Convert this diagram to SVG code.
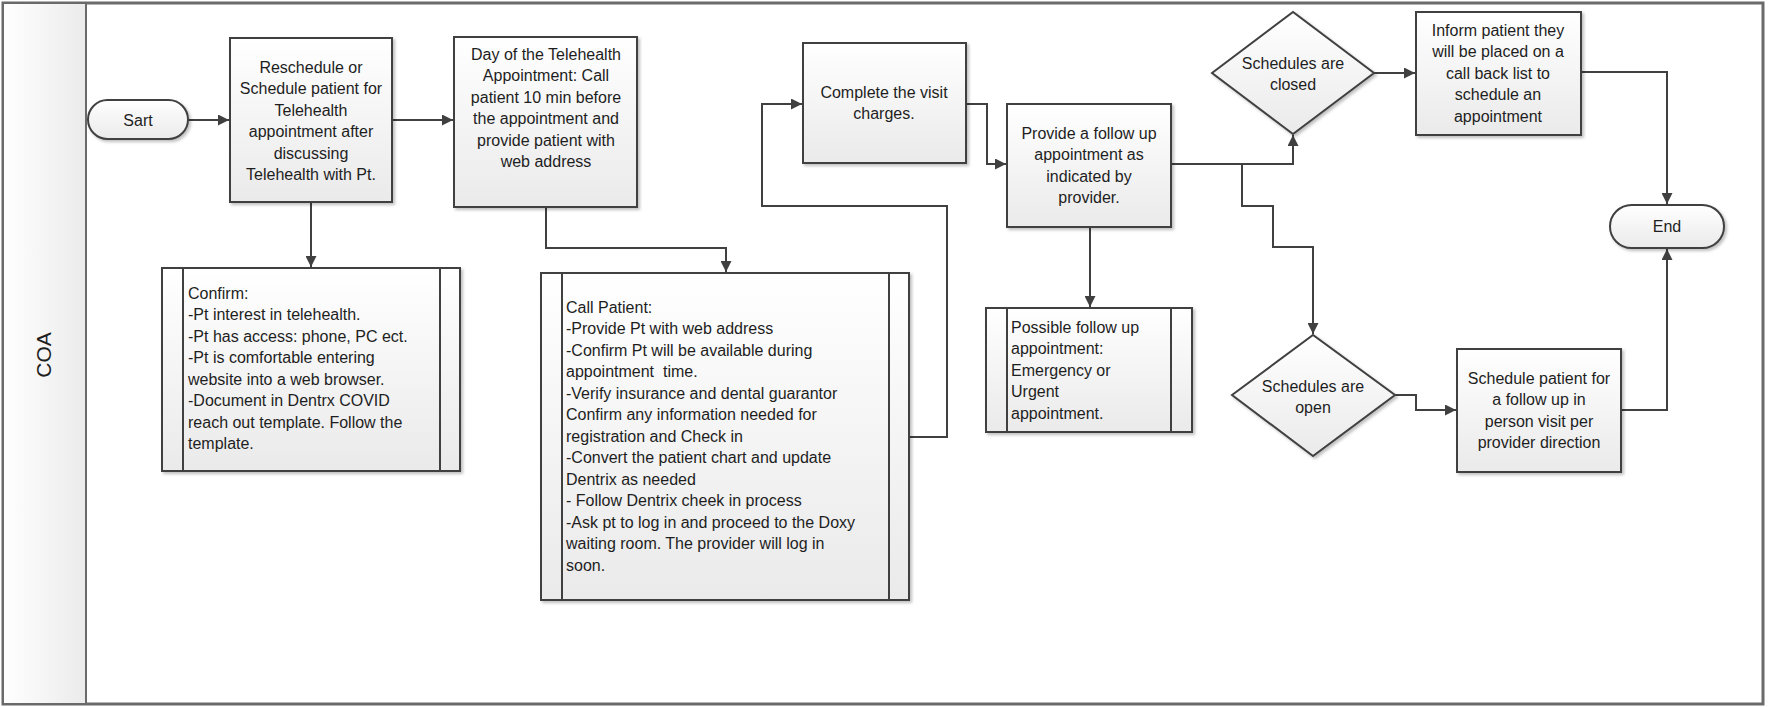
<svg xmlns="http://www.w3.org/2000/svg" width="1768" height="707" viewBox="0 0 1768 707">
<defs>
<linearGradient id="gBox" x1="0" y1="0" x2="0" y2="1">
<stop offset="0" stop-color="#ffffff"/>
<stop offset="1" stop-color="#eaeaea"/>
</linearGradient>
<linearGradient id="gLane" x1="0" y1="0" x2="1" y2="0">
<stop offset="0" stop-color="#ffffff"/>
<stop offset="1" stop-color="#ebebeb"/>
</linearGradient>
<filter id="sh" x="-10%" y="-10%" width="130%" height="130%">
<feDropShadow dx="2" dy="2" stdDeviation="1.5" flood-color="#000" flood-opacity="0.25"/>
</filter>
<marker id="arr" viewBox="0 0 10 10" refX="10" refY="5" markerWidth="5.5" markerHeight="5.5" orient="auto" markerUnits="strokeWidth">
<path d="M0,0 L10,5 L0,10 z" fill="#404040"/>
</marker>
</defs>
<style>
.box{fill:url(#gBox);stroke:#404040;stroke-width:2;filter:url(#sh)}
.inner{stroke:#404040;stroke-width:2;fill:none}
.conn{fill:none;stroke:#404040;stroke-width:2;marker-end:url(#arr)}
.line{fill:none;stroke:#404040;stroke-width:2}
text{font-family:"Liberation Sans",Arial,sans-serif;font-size:16px;fill:#1e1e1e}
.c{text-anchor:middle}
</style>
<g id="lane">
<rect x="3" y="3" width="1760" height="701" fill="#ffffff" stroke="#6a6a6a" stroke-width="3"/>
<rect x="3" y="3" width="83" height="701" fill="url(#gLane)" stroke="#6a6a6a" stroke-width="2"/>
<text transform="translate(51,355) rotate(-90)" class="c" style="font-size:21px">COA</text>
</g>
<g id="connectors">
<path class="conn" d="M188,120 H229"/>
<path class="conn" d="M392,120 H453"/>
<path class="conn" d="M311,202 V267"/>
<path class="conn" d="M546,207 V248 H726 V272"/>
<path class="conn" d="M909,437 H947 V206 H762 V104 H802"/>
<path class="conn" d="M966,104 H987 V164 H1006"/>
<path class="conn" d="M1171,164 H1293 V135"/>
<path class="conn" d="M1242,164 V206 H1273 V247 H1313 V334"/>
<path class="conn" d="M1090,227 V307"/>
<path class="conn" d="M1374,73 H1415"/>
<path class="conn" d="M1395,395 H1416 V410 H1456"/>
<path class="conn" d="M1581,72 H1667 V204"/>
<path class="conn" d="M1621,410 H1667 V249"/>
</g>
<g id="start">
<rect class="box" x="88" y="100" width="100" height="39" rx="19.5"/>
<text class="c" x="138" y="125.5">Sart</text>
</g>
<g id="reschedule">
<rect class="box" x="230" y="38" width="162" height="164"/>
<text class="c" x="311" y="72.5">Reschedule or</text>
<text class="c" x="311" y="94">Schedule patient for</text>
<text class="c" x="311" y="115.5">Telehealth</text>
<text class="c" x="311" y="137">appointment after</text>
<text class="c" x="311" y="158.5">discussing</text>
<text class="c" x="311" y="180">Telehealth with Pt.</text>
</g>
<g id="dayof">
<rect class="box" x="454" y="37" width="183" height="170"/>
<text class="c" x="546" y="59.5">Day of the Telehealth</text>
<text class="c" x="546" y="81">Appointment: Call</text>
<text class="c" x="546" y="102.5">patient 10 min before</text>
<text class="c" x="546" y="124">the appointment and</text>
<text class="c" x="546" y="145.5">provide patient with</text>
<text class="c" x="546" y="167">web address</text>
</g>
<g id="confirm">
<rect class="box" x="162" y="268" width="298" height="203"/>
<line class="inner" x1="183" y1="268" x2="183" y2="471"/>
<line class="inner" x1="440" y1="268" x2="440" y2="471"/>
<text x="188" y="298.5">Confirm:</text>
<text x="188" y="320">-Pt interest in telehealth.</text>
<text x="188" y="341.5">-Pt has access: phone, PC ect.</text>
<text x="188" y="363">-Pt is comfortable entering</text>
<text x="188" y="384.5">website into a web browser.</text>
<text x="188" y="406">-Document in Dentrx COVID</text>
<text x="188" y="427.5">reach out template. Follow the</text>
<text x="188" y="449">template.</text>
</g>
<g id="callpatient">
<rect class="box" x="541" y="273" width="368" height="327"/>
<line class="inner" x1="562" y1="273" x2="562" y2="600"/>
<line class="inner" x1="889" y1="273" x2="889" y2="600"/>
<text x="566" y="312.5">Call Patient:</text>
<text x="566" y="334">-Provide Pt with web address</text>
<text x="566" y="355.5">-Confirm Pt will be available during</text>
<text x="566" y="377" xml:space="preserve">appointment  time.</text>
<text x="566" y="398.5">-Verify insurance and dental guarantor</text>
<text x="566" y="420">Confirm any information needed for</text>
<text x="566" y="441.5">registration and Check in</text>
<text x="566" y="463">-Convert the patient chart and update</text>
<text x="566" y="484.5">Dentrix as needed</text>
<text x="566" y="506">- Follow Dentrix cheek in process</text>
<text x="566" y="527.5">-Ask pt to log in and proceed to the Doxy</text>
<text x="566" y="549">waiting room. The provider will log in</text>
<text x="566" y="570.5">soon.</text>
</g>
<g id="complete">
<rect class="box" x="803" y="43" width="163" height="120"/>
<text class="c" x="884" y="97.5">Complete the visit</text>
<text class="c" x="884" y="119">charges.</text>
</g>
<g id="provide">
<rect class="box" x="1007" y="104" width="164" height="123"/>
<text class="c" x="1089" y="138.5">Provide a follow up</text>
<text class="c" x="1089" y="160">appointment as</text>
<text class="c" x="1089" y="181.5">indicated by</text>
<text class="c" x="1089" y="203">provider.</text>
</g>
<g id="possible">
<rect class="box" x="986" y="308" width="206" height="124"/>
<line class="inner" x1="1007" y1="308" x2="1007" y2="432"/>
<line class="inner" x1="1171" y1="308" x2="1171" y2="432"/>
<text x="1011" y="332.5">Possible follow up</text>
<text x="1011" y="354">appointment:</text>
<text x="1011" y="375.5">Emergency or</text>
<text x="1011" y="397">Urgent</text>
<text x="1011" y="418.5">appointment.</text>
</g>
<g id="closed">
<polygon class="box" points="1212,73 1293,12 1374,73 1293,134"/>
<text class="c" x="1293" y="68.5">Schedules are</text>
<text class="c" x="1293" y="90">closed</text>
</g>
<g id="open">
<polygon class="box" points="1232,395 1313,335 1395,395 1313,456"/>
<text class="c" x="1313" y="391.5">Schedules are</text>
<text class="c" x="1313" y="413">open</text>
</g>
<g id="inform">
<rect class="box" x="1416" y="12" width="165" height="123"/>
<text class="c" x="1498" y="35.5">Inform patient they</text>
<text class="c" x="1498" y="57">will be placed on a</text>
<text class="c" x="1498" y="78.5">call back list to</text>
<text class="c" x="1498" y="100">schedule an</text>
<text class="c" x="1498" y="121.5">appointment</text>
</g>
<g id="schedule">
<rect class="box" x="1457" y="349" width="164" height="123"/>
<text class="c" x="1539" y="383.5">Schedule patient for</text>
<text class="c" x="1539" y="405">a follow up in</text>
<text class="c" x="1539" y="426.5">person visit per</text>
<text class="c" x="1539" y="448">provider direction</text>
</g>
<g id="end">
<rect class="box" x="1610" y="205" width="114" height="43" rx="21.5"/>
<text class="c" x="1667" y="232">End</text>
</g>
</svg>
